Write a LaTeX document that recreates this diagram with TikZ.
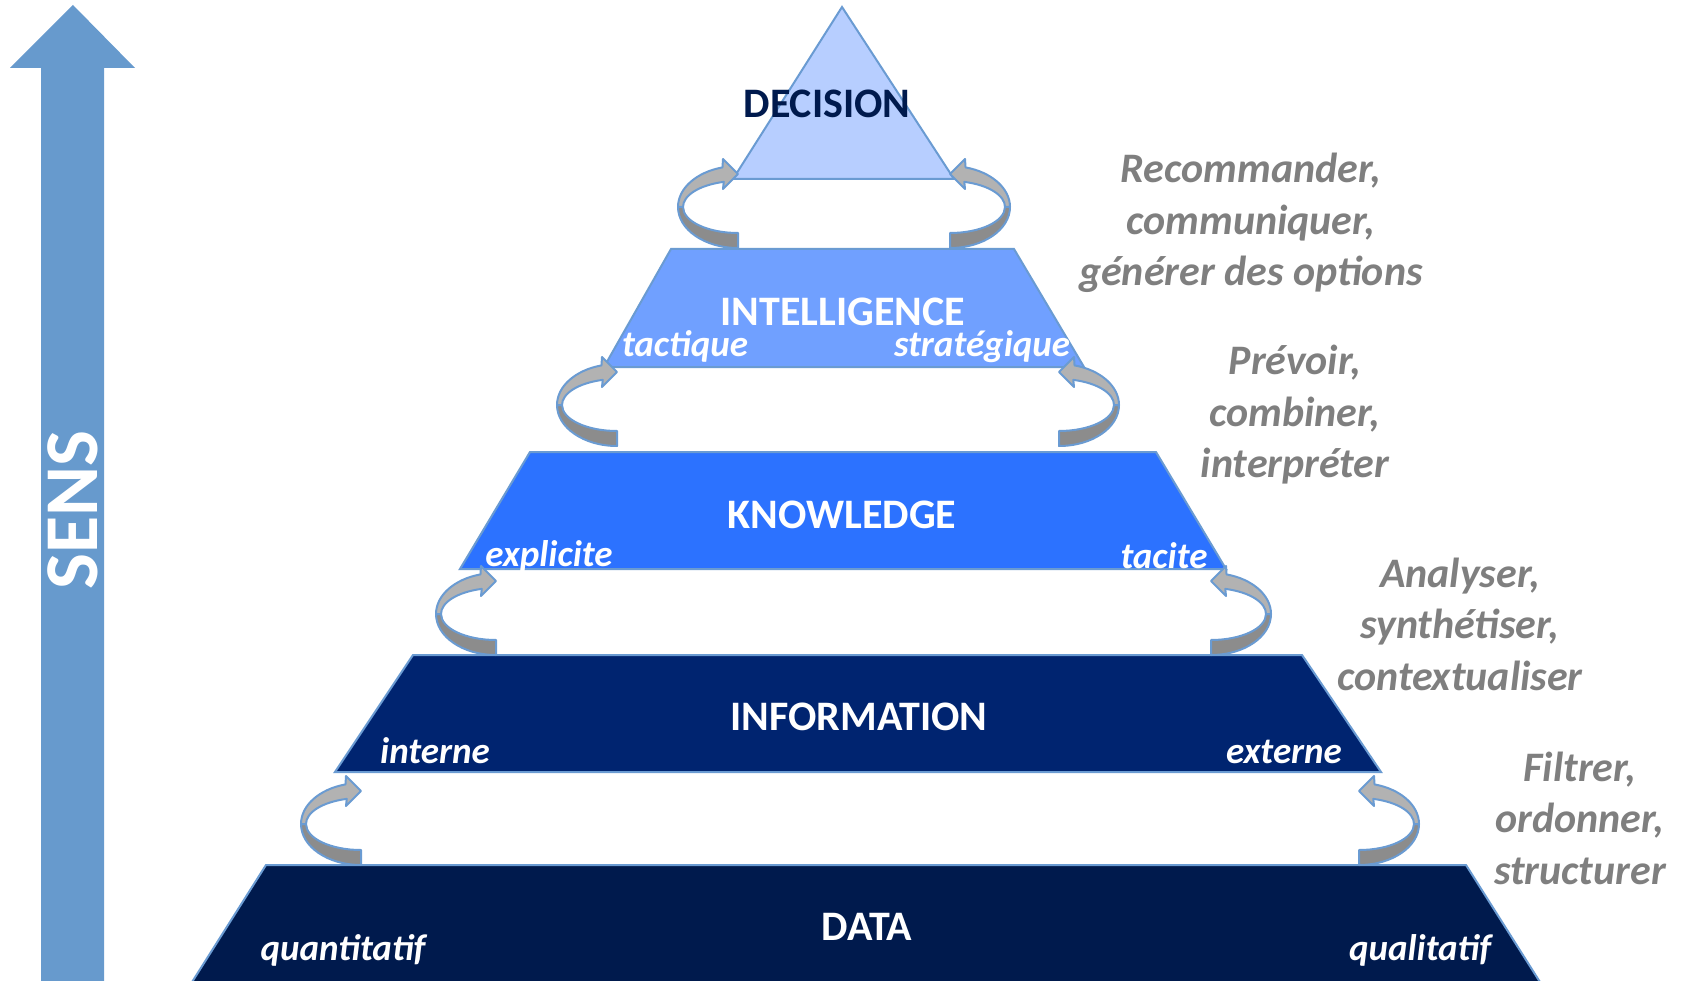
\documentclass[tikz,border=0pt]{standalone}
\usepackage{fontspec}
\setmainfont{Carlito}
\definecolor{sensblue}{RGB}{103,154,205}
\definecolor{edgeblue}{RGB}{106,155,210}
\definecolor{decisionfill}{RGB}{183,206,255}
\definecolor{intelfill}{RGB}{112,160,255}
\definecolor{knowfill}{RGB}{44,114,255}
\definecolor{infofill}{RGB}{0,36,112}
\definecolor{datafill}{RGB}{0,26,77}
\definecolor{loopdark}{RGB}{140,140,140}
\definecolor{looplight}{RGB}{178,178,178}
\definecolor{notegray}{RGB}{127,127,127}
\tikzset{
  layer/.style={draw=edgeblue, line width=2pt},
  title/.style={font=\fontsize{42}{50}\selectfont\bfseries, text=white},
  sublabel/.style={font=\fontsize{37}{44}\selectfont\bfseries\itshape, text=white, anchor=base},
  note/.style={font=\fontsize{42}{51.5}\selectfont\bfseries\itshape, text=notegray, align=center},
  loopband/.style={draw=edgeblue, line width=2pt, line join=round}
}
\newcommand{\looparrow}[3]{%
  \begin{scope}[shift={(#1,#2)}, xscale=#3]
    \filldraw[loopband, fill=loopdark] (0,41) arc [start angle=90, end angle=180, x radius=60, y radius=41]
      -- (-55,0) arc [start angle=180, end angle=90, x radius=55, y radius=26] -- cycle;
    \filldraw[loopband, fill=looplight] (-60,0) arc [start angle=180, end angle=255, x radius=60, y radius=41]
      -- (-15,-48) -- (0,-33) -- (-15,-18) -- (255:55 and 26)
      arc [start angle=255, end angle=180, x radius=55, y radius=26] -- cycle;
  \end{scope}}
\begin{document}
\begin{tikzpicture}[x=1pt, y=-1pt]
\useasboundingbox (0,0) rectangle (1683,981);

\fill [sensblue] (41,990) -- (41,68) -- (10,68) -- (73,5) -- (135,68) -- (104,68) -- (104,990) -- cycle;
\node [rotate=90, text=white, font=\fontsize{76}{80}\selectfont\bfseries] (sens) at (73,510) {SENS};

\filldraw [layer, fill=decisionfill] (842,7) -- (954,179) -- (733,179) -- cycle;
\filldraw [layer, fill=intelfill] (671,249) -- (1014,249) -- (1084,367) -- (604,367) -- cycle;
\filldraw [layer, fill=knowfill] (530,452) -- (1156,452) -- (1226,569) -- (460,569) -- cycle;
\filldraw [layer, fill=infofill] (413,655) -- (1302,655) -- (1381,772) -- (335,772) -- cycle;
\filldraw [layer, fill=datafill] (266,865) -- (1466,865) -- (1545,990) -- (187,990) -- cycle;

\node [title, text=datafill] (decision) at (827,104) {DECISION};
\node [title] (intelligence) at (843,312) {INTELLIGENCE};
\node [title] (knowledge) at (842,515) {KNOWLEDGE};
\node [title] (information) at (859,717) {INFORMATION};
\node [title] (data) at (867,927) {DATA};

\node [sublabel] (tactique) at (685,356) {tactique};
\node [sublabel] (strategique) at (982,356) {stratégique};
\node [sublabel] (explicite) at (549,566) {explicite};
\node [sublabel] (tacite) at (1164,568) {tacite};
\node [sublabel] (interne) at (435,763) {interne};
\node [sublabel] (externe) at (1284,763) {externe};
\node [sublabel] (quantitatif) at (343,960) {quantitatif};
\node [sublabel] (qualitatif) at (1420,960) {qualitatif};

\looparrow{738}{207}{1}
\looparrow{950}{207}{-1}
\looparrow{617}{405}{1}
\looparrow{1059}{405}{-1}
\looparrow{496}{614}{1}
\looparrow{1211}{614}{-1}
\looparrow{361}{824}{1}
\looparrow{1359}{824}{-1}

\node [note] (recommander) at (1251,223) {Recommander,\\communiquer,\\générer des options};
\node [note] (prevoir) at (1295,415) {Prévoir,\\combiner,\\interpréter};
\node [note] (analyser) at (1460,624) {Analyser,\\synthétiser,\\contextualiser};
\node [note] (filtrer) at (1580,818) {Filtrer,\\ordonner,\\structurer};
\end{tikzpicture}
\end{document}
